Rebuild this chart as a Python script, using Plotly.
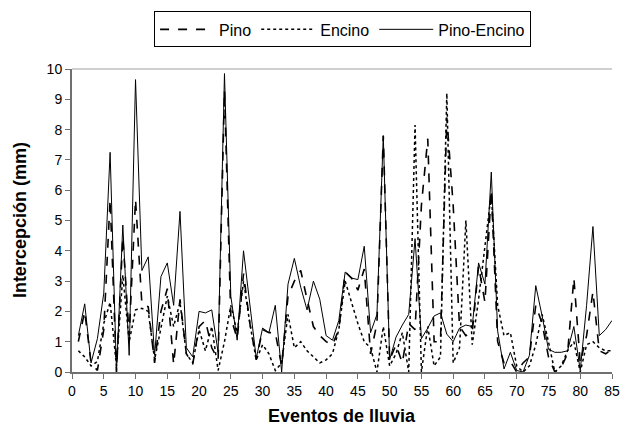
import plotly.graph_objects as go

eventos = list(range(1, 86))

pino = [1.0, 2.0, 0.3, 0.05, 1.4, 5.7, 0.0, 4.45, 1.2, 5.7,
        2.25, 2.15, 0.3, 2.0, 2.75, 0.25, 2.4, 0.6, 0.25, 1.5,
        1.7, 0.8, 0.4, 9.3, 1.8, 1.1, 3.25, 1.6, 0.4, 1.4,
        1.3, 1.3, 0.2, 2.5, 3.0, 3.35, 2.4, 1.5, 1.2, 1.0,
        0.9, 1.4, 3.3, 3.1, 2.7, 3.4, 0.6, 1.6, 7.8, 0.4,
        0.9, 0.3, 1.6, 1.4, 5.5, 7.7, 1.0, 1.0, 8.4, 5.5,
        1.5, 1.2, 1.3, 3.5, 2.3, 6.0, 1.0, 0.3, 0.35, 0.0,
        0.3, 0.5, 2.2, 1.6, 0.5, 0.0, 0.15, 0.6, 3.1, 0.3,
        1.2, 2.65, 0.7, 0.6, 0.75]

encino = [0.7, 0.5, 0.2, 0.35, 1.6, 2.3, 0.2, 3.2, 1.0, 2.05,
          2.1, 2.0, 0.4, 1.5, 2.5, 1.5, 2.3, 0.6, 0.3, 1.4,
          0.7, 1.5, 0.05, 1.0, 2.2, 1.3, 3.0, 1.6, 0.4, 0.9,
          0.6, 0.05, 0.3, 1.9, 0.8, 1.0, 0.7, 0.5, 0.3, 0.4,
          0.6, 1.4, 3.0, 2.3, 1.6, 1.0, 0.8, 0.0, 1.5, 0.2,
          0.6, 1.3, 0.0, 8.15, 0.0, 1.5, 0.2, 0.5, 9.2, 0.3,
          0.8, 5.0, 0.9, 2.4, 4.1, 5.9, 2.2, 1.2, 1.3, 0.2,
          0.0, 0.2, 0.9, 1.9, 1.0, 0.0, 0.2, 0.7, 1.0, 0.0,
          0.9, 1.0, 0.8, 0.7, 0.7]

pino_encino = [1.2, 2.25, 0.3, 1.1, 2.6, 7.25, 0.0, 4.85, 0.55, 9.65,
               3.35, 3.8, 0.55, 3.15, 3.6, 2.2, 5.3, 0.8, 0.5, 2.0,
               1.95, 2.05, 0.65, 9.85, 2.5, 1.05, 4.0, 2.3, 0.45, 1.45,
               1.3, 2.2, 0.0, 2.9, 3.75, 2.8, 2.05, 3.0, 2.4, 1.2,
               1.05, 1.7, 3.3, 3.1, 3.05, 4.15, 1.3, 1.9, 7.8, 0.4,
               1.15, 1.55, 1.9, 4.4, 1.1, 1.45, 1.85, 1.95, 1.25, 1.0,
               1.45, 1.55, 1.5, 3.6, 2.9, 6.6, 1.35, 0.1, 0.65, 0.05,
               0.0, 0.55, 2.85, 1.85, 0.75, 0.65, 0.65, 0.7, 1.5, 0.05,
               2.2, 4.8, 1.2, 1.4, 1.7]

x_ticks = list(range(0, 90, 5))
y_ticks = list(range(0, 11))

FONT = "Liberation Sans, Arial, sans-serif"

fig = go.Figure()
fig.add_trace(go.Scatter(x=eventos, y=pino, mode="lines", name="Pino",
                         line=dict(color="black", width=1.6, dash="dash")))
fig.add_trace(go.Scatter(x=eventos, y=encino, mode="lines", name="Encino",
                         line=dict(color="black", width=1.5, dash="dot")))
fig.add_trace(go.Scatter(x=eventos, y=pino_encino, mode="lines", name="Pino-Encino",
                         line=dict(color="black", width=1)))

fig.update_layout(
    width=628, height=429,
    margin=dict(l=72, r=8, t=69, b=57),
    paper_bgcolor="white", plot_bgcolor="white",
    font=dict(family=FONT, size=14, color="black"),
    showlegend=True,
    legend=dict(orientation="h", x=0.152, xanchor="left", y=1.19, yanchor="top",
                bordercolor="black", borderwidth=1, bgcolor="white",
                font=dict(family=FONT, size=16, color="black"),
                itemwidth=54, tracegroupgap=0),
    xaxis=dict(range=[0, 85], tickvals=x_ticks, showgrid=False, zeroline=False,
               showline=True, linecolor="#707070", linewidth=2,
               ticks="outside", ticklen=5, tickcolor="#707070",
               tickfont=dict(size=14)),
    yaxis=dict(range=[0, 10], tickvals=y_ticks, showgrid=False, zeroline=False,
               showline=True, linecolor="#707070", linewidth=2,
               ticks="outside", ticklen=5, tickcolor="#707070",
               tickfont=dict(size=14)),
    shapes=[dict(type="line", xref="paper", yref="paper", x0=0, x1=1, y0=1, y1=1,
                 line=dict(color="#a0a0a0", width=1))],
    annotations=[
        dict(text="<b>Eventos de lluvia</b>", xref="paper", yref="paper",
             x=0.5, y=-0.145, xanchor="center", yanchor="middle", showarrow=False,
             font=dict(family=FONT, size=18, color="black")),
        dict(text="<b>Intercepción (mm)</b>", xref="paper", yref="paper",
             x=-0.097, y=0.5, xanchor="center", yanchor="middle", showarrow=False,
             textangle=-90, font=dict(family=FONT, size=18, color="black")),
    ],
)

fig.write_html("out.html", config={"displayModeBar": False},
               post_script="document.body.style.margin='0px';")
